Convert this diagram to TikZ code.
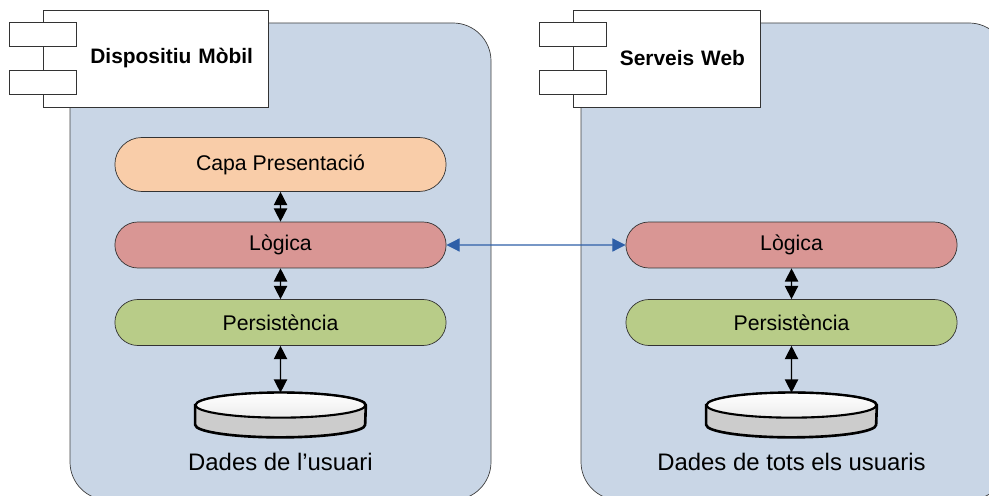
\documentclass[tikz,border=0pt]{standalone}
\usepackage{fontspec}
\setmainfont{Liberation Sans}
\usepackage{tikz}
\usetikzlibrary{shapes.misc, arrows.meta, positioning}

\definecolor{contblue}{HTML}{C9D6E6}
\definecolor{capapeach}{HTML}{F9CDA9}
\definecolor{logicred}{HTML}{D99694}
\definecolor{persgreen}{HTML}{B8CC88}
\definecolor{linkblue}{HTML}{2E5FA8}

\tikzset{
  container/.style={draw=black!75, fill=contblue, rounded corners=0.76cm},
  component/.style={draw=black!80, fill=white, minimum height=1.94cm, inner xsep=0.3cm,
    align=right, font=\bfseries\fontsize{11.9}{14}\selectfont},
  plug/.style={draw=black!80, fill=white, minimum width=1.34cm, minimum height=0.48cm},
  layer/.style={rounded rectangle, draw=black!80, minimum width=6.86cm, minimum height=0.92cm,
    font=\fontsize{12.1}{14}\selectfont},
  tier/.style={{Triangle[width=7.5pt,length=7.5pt]}-{Triangle[width=7.5pt,length=7.5pt]}, line width=0.8pt},
  dblabel/.style={font=\fontsize{13.6}{16}\selectfont}
}

% flat disk drawn over the (empty) node #1
\newcommand{\drawdisk}[1]{%
  \filldraw[line width=1.5pt, left color=gray!40, middle color=gray!6, right color=gray!40]
    ([yshift=-0.25cm]#1.north west) -- ([yshift=0.25cm]#1.south west)
    arc[start angle=180, end angle=360, x radius=1.7cm, y radius=0.25cm]
    -- ([yshift=-0.25cm]#1.north east)
    arc[start angle=0, end angle=180, x radius=1.7cm, y radius=0.25cm] -- cycle;
  \filldraw[line width=1.2pt, top color=white, bottom color=gray!15]
    ([yshift=-0.25cm]#1.north) ellipse[x radius=1.7cm, y radius=0.25cm];
}

\begin{document}
\begin{tikzpicture}[x=0.02cm, y=-0.02cm]
        \useasboundingbox (0,0) rectangle (989,496);
        \clip (0,0) rectangle (989,496);

        % the two blocks
        \draw[container] (70,23) rectangle (491,500);
        \draw[container] (581,23) rectangle (1007,500);

        \node[component, text width=3.9cm] (mobil) at (155.5,58.5) {Dispositiu Mòbil};
        \node[plug] (mobilA) at ([yshift=0.49cm]mobil.west) {};
        \node[plug] (mobilB) at ([yshift=-0.48cm]mobil.west) {};

        \node[component, text width=3.14cm] (web) at (666.5,58.5) {Serveis Web};
        \node[plug] (webA) at ([yshift=0.49cm]web.west) {};
        \node[plug] (webB) at ([yshift=-0.48cm]web.west) {};

        % layers
        \node[layer, fill=capapeach, minimum height=1.08cm] (capa) at (280.5,164.5) {Capa Presentació};
        \node[layer, fill=logicred] (logica1) at (280.5,245) {Lògica};
        \node[layer, fill=persgreen] (pers1) at (280.5,322.5) {Persistència};

        \node[layer, fill=logicred] (logica2) at (791.5,245) {Lògica};
        \node[layer, fill=persgreen] (pers2) at (791.5,322.5) {Persistència};

        % data stores
        \node[minimum width=3.4cm, minimum height=0.88cm, inner sep=0pt] (db1) at (280.5,415) {};
        \drawdisk{db1}
        \node[dblabel] (dades1) at (280.5,462) {Dades de l’usuari};

        \node[minimum width=3.4cm, minimum height=0.88cm, inner sep=0pt] (db2) at (791.5,415) {};
        \drawdisk{db2}
        \node[dblabel] (dades2) at (791.5,462) {Dades de tots els usuaris};

        % links
        \draw[tier] (capa) -- (logica1);
        \draw[tier] (logica1) -- (pers1);
        \draw[tier] (pers1) -- (db1);
        \draw[tier] (logica2) -- (pers2);
        \draw[tier] (pers2) -- (db2);
        \draw[tier, linkblue, line width=0.6pt] (logica1) -- (logica2);
    \end{tikzpicture}
\end{document}
